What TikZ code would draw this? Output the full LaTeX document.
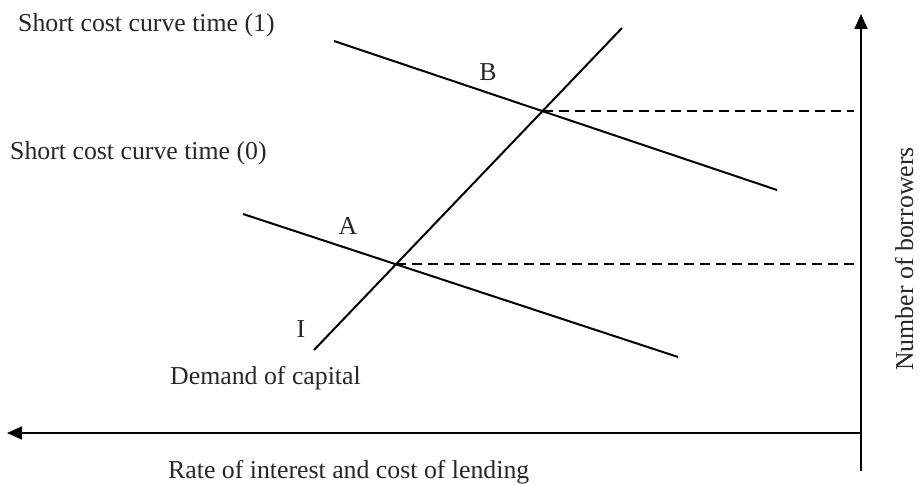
\documentclass[tikz,border=0pt]{standalone}
\usepackage{fontspec}
\setmainfont{Liberation Serif}
\usetikzlibrary{arrows.meta}
\begin{document}
\begin{tikzpicture}[x=1pt,y=-1pt,
  lbl/.style={inner sep=0pt,font=\fontsize{25.8}{30}\selectfont,text=black!85},
  curve/.style={line width=2pt},
  axis/.style={line width=1.7pt,-{Triangle[length=15pt,width=13pt]}},
  guide/.style={line width=2pt,dash pattern=on 10pt off 6pt}]
\useasboundingbox (0,0) rectangle (919,484);
% axes
\coordinate (O) at (861,433);
\coordinate (Ybot) at (861,471);
\coordinate (Ytop) at (861,14);
\coordinate (Xend) at (7,433);
\draw[axis] (Ybot) -- (Ytop);
\draw[axis] (O) -- (Xend);
% curves
\coordinate (D1) at (314,350);
\coordinate (D2) at (622,28);
\coordinate (U1) at (334,41);
\coordinate (U2) at (777,190);
\coordinate (L1) at (243,214);
\coordinate (L2) at (678,357);
\coordinate (B) at (intersection of D1--D2 and U1--U2);
\coordinate (A) at (intersection of D1--D2 and L1--L2);
\coordinate (Bend) at (854,111);
\coordinate (Aend) at (858,293);
\draw[curve] (D1) -- (D2);
\draw[curve] (U1) -- (U2);
\draw[curve] (L1) -- (L2);
\draw[guide] (B) -- (B -| Bend);
\draw[guide] (A) -- (A -| Aend);
% labels
\node[lbl,anchor=base west] (t1) at (18,32) {Short cost curve time (1)};
\node[lbl,anchor=base west] (t0) at (10,160) {Short cost curve time (0)};
\node[lbl,anchor=base] (lB) at (488,81) {B};
\node[lbl,anchor=base] (lA) at (348,234) {A};
\node[lbl,anchor=base] (lI) at (301,337) {I};
\node[lbl,anchor=base west] (dc) at (170,384) {Demand of capital};
\node[lbl,anchor=base west] (rt) at (168,478) {Rate of interest and cost of lending};
\node[lbl,rotate=90,anchor=base] (nb) at (913,259) {Number of borrowers};
\end{tikzpicture}
\end{document}
